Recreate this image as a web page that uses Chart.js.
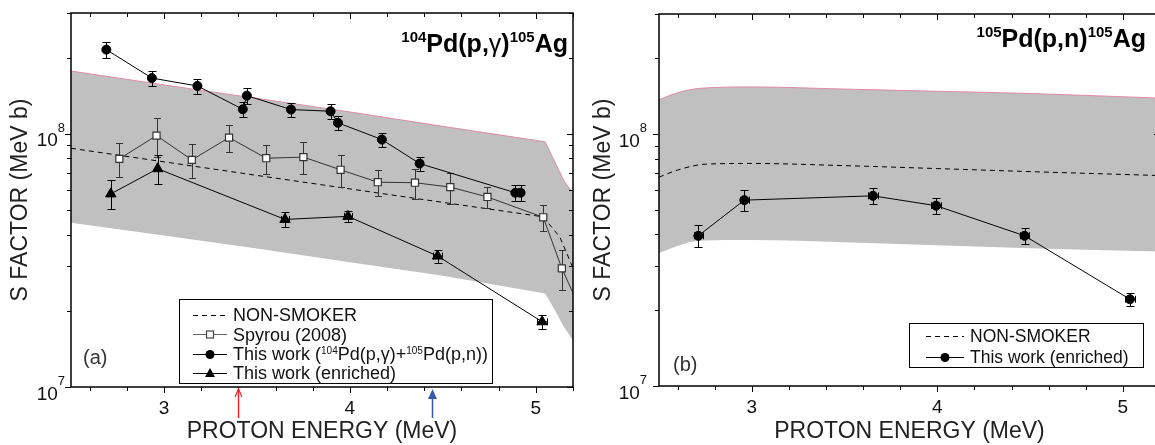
<!DOCTYPE html>
<html>
<head>
<meta charset="utf-8">
<script src="https://cdn.jsdelivr.net/npm/chart.js@4.4.0/dist/chart.umd.min.js"></script>
<style>
  html, body { margin: 0; padding: 0; background: #fff; overflow: hidden; }
  #chartA { position: absolute; left: 0; top: 0; }
  #chartB { position: absolute; left: 580px; top: 0; }
</style>
</head>
<body>
<canvas id="chartA" width="580" height="445"></canvas>
<canvas id="chartB" width="586" height="445"></canvas>
<script>
const FONT = "'Liberation Sans', Arial, Helvetica, sans-serif";

// axis ticks (MeV, MeV b)
const xTicks = [3, 4, 5];
const xMinor = [2.6, 2.8, 3.2, 3.4, 3.6, 3.8, 4.2, 4.4, 4.6, 4.8, 5.2];
const yTicks = [1e7, 1e8];
const yMinor = [2e7, 3e7, 4e7, 5e7, 6e7, 7e7, 8e7, 9e7, 2e8, 3e8];

// panel (a): 104Pd(p,g)105Ag
const smokerAx = [2.5, 3.0, 3.5, 4.0, 4.5, 5.04, 5.13, 5.19, 5.2];
const smokerAy = [8.77e7, 7.75e7, 6.85e7, 6.06e7, 5.36e7, 4.7e7, 3.9e7, 3.07e7, 2.95e7];
const bandAx = [2.5, 3.0, 3.5, 4.0, 4.5, 5.05, 5.1, 5.15, 5.2];
const bandAhi = [1.77e8, 1.56e8, 1.38e8, 1.22e8, 1.07e8, 9.3e7, 7.8e7, 6.55e7, 5.8e7];
const bandAlo = [4.45e7, 3.97e7, 3.52e7, 3.11e7, 2.75e7, 2.34e7, 2.03e7, 1.73e7, 1.53e7];

const spyrouX = [2.76, 2.96, 3.15, 3.35, 3.55, 3.75, 3.95, 4.15, 4.35, 4.54, 4.74, 5.04, 5.14, 5.25];
const spyrouY = [7.96e7, 9.84e7, 7.89e7, 9.66e7, 8.01e7, 8.09e7, 7.21e7, 6.44e7, 6.41e7, 6.16e7, 5.63e7, 4.68e7, 2.94e7, 1.95e7];
const spyrouErr = [1.2e7, 1.75e7, 1.2e7, 1.15e7, 1.05e7, 1.15e7, 1.05e7, 7.7e6, 8.6e6, 8.6e6, 5.6e6, 5.6e6, 5.3e6, null];

const combX = [2.69, 2.935, 3.18, 3.424, 3.446, 3.683, 3.896, 3.936, 4.172, 4.375, 4.89, 4.918];
const combY = [2.15e8, 1.66e8, 1.545e8, 1.25e8, 1.415e8, 1.247e8, 1.228e8, 1.105e8, 9.49e7, 7.63e7, 5.85e7, 5.85e7];
const combErr = [1.5e7, 1.15e7, 1.05e7, 8.5e6, 1.0e7, 8e6, 8e6, 7e6, 6e6, 5e6, 4e6, 4e6];

const enrAx = [2.714, 2.966, 3.651, 3.99, 4.472, 5.034];
const enrAy = [5.79e7, 7.28e7, 4.59e7, 4.72e7, 3.29e7, 1.81e7];
const enrAerr = [7.5e6, 9.5e6, 3e6, 2.3e6, 2e6, 1.2e6];
const enrAxErr = [0, 0, 0.02, 0.02, 0.025, 0.025];

// panel (b): 105Pd(p,n)105Ag
const smokerBx = [2.5, 2.6, 2.75, 3.0, 3.5, 4.0, 4.5, 5.2];
const smokerBy = [6.75e7, 7.2e7, 7.6e7, 7.65e7, 7.5e7, 7.3e7, 7.1e7, 6.85e7];
const bandBx = [2.5, 2.6, 2.72, 3.0, 3.5, 4.0, 4.5, 5.2];
const bandBhi = [1.37e8, 1.46e8, 1.52e8, 1.54e8, 1.51e8, 1.48e8, 1.45e8, 1.39e8];
const bandBlo = [3.37e7, 3.6e7, 3.77e7, 3.8e7, 3.72e7, 3.62e7, 3.52e7, 3.42e7];

const enrBx = [2.712, 2.96, 3.653, 3.993, 4.47, 5.038];
const enrBy = [3.95e7, 5.47e7, 5.69e7, 5.2e7, 3.95e7, 2.21e7];
const enrBerr = [4e6, 5.2e6, 4e6, 3.6e6, 2.8e6, 1.25e6];
const enrBxErr = [0.025, 0.025, 0.025, 0.025, 0.025, 0.025];

// arrows under panel (a)
const arrowX = [3.40, 4.44];

function pts(xs, ys) {
  return xs.map((x, i) => ({ x: x, y: ys[i] }));
}

function richText(ctx, parts, x, y, align, size, bold, supRatio, raise) {
  const w = bold ? 'bold ' : '';
  const sub = Math.round(size * supRatio);
  const fontOf = k => k === 's' ? w + sub + 'px ' + FONT : (k === 'r' ? '' : w) + size + 'px ' + FONT;
  let total = 0;
  parts.forEach(([t, k]) => { ctx.font = fontOf(k); total += ctx.measureText(t).width; });
  let cx = align === 'right' ? x - total : x;
  ctx.textAlign = 'left';
  ctx.textBaseline = 'alphabetic';
  parts.forEach(([t, k]) => {
    ctx.font = fontOf(k);
    ctx.fillText(t, cx, k === 's' ? y - size * raise : y);
    cx += ctx.measureText(t).width;
  });
}

function marker(ctx, kind, x, y) {
  ctx.save();
  ctx.lineWidth = 1.2;
  if (kind === 'square') {
    ctx.fillStyle = '#fff';
    ctx.strokeStyle = '#444';
    ctx.fillRect(x - 3.5, y - 3.5, 7, 7);
    ctx.strokeRect(x - 3.5, y - 3.5, 7, 7);
  } else if (kind === 'circle') {
    ctx.fillStyle = '#000';
    ctx.beginPath();
    ctx.arc(x, y, 4.5, 0, Math.PI * 2);
    ctx.fill();
  } else if (kind === 'triangle') {
    ctx.fillStyle = '#000';
    ctx.beginPath();
    ctx.moveTo(x, y - 5.5);
    ctx.lineTo(x + 5, y + 3.5);
    ctx.lineTo(x - 5, y + 3.5);
    ctx.closePath();
    ctx.fill();
  }
  ctx.restore();
}

const errorBars = {
  id: 'errorBars',
  beforeDatasetDraw(chart, args) {
    const ds = chart.data.datasets[args.index];
    if (!ds.errY) return;
    const xs = chart.scales.x, ys = chart.scales.y;
    const a = chart.chartArea;
    const ctx = chart.ctx;
    const cap = ds.errCap || 4;
    ctx.save();
    ctx.beginPath();
    ctx.rect(a.left, a.top, a.right - a.left, a.bottom - a.top);
    ctx.clip();
    ctx.strokeStyle = ds.errColor || '#000';
    ctx.lineWidth = 1;
    ds.data.forEach((p, i) => {
      const e = ds.errY[i];
      const px = Math.round(xs.getPixelForValue(p.x)) + 0.5;
      const py = ys.getPixelForValue(p.y);
      ctx.beginPath();
      if (e) {
        const t = Math.round(ys.getPixelForValue(p.y + e)) + 0.5;
        const b = Math.round(ys.getPixelForValue(p.y - e)) + 0.5;
        ctx.moveTo(px, t); ctx.lineTo(px, b);
        ctx.moveTo(px - cap, t); ctx.lineTo(px + cap, t);
        ctx.moveTo(px - cap, b); ctx.lineTo(px + cap, b);
      }
      const ex = ds.errX ? ds.errX[i] : 0;
      if (ex) {
        const l = Math.round(xs.getPixelForValue(p.x - ex)) + 0.5;
        const r = Math.round(xs.getPixelForValue(p.x + ex)) + 0.5;
        ctx.moveTo(l, py); ctx.lineTo(r, py);
        ctx.moveTo(l, py - 3.5); ctx.lineTo(l, py + 3.5);
        ctx.moveTo(r, py - 3.5); ctx.lineTo(r, py + 3.5);
      }
      ctx.stroke();
    });
    ctx.restore();
  }
};

const frame = {
  id: 'frame',
  afterDraw(chart, args, opts) {
    const ctx = chart.ctx;
    const { left, right, top, bottom } = chart.chartArea;
    const xs = chart.scales.x, ys = chart.scales.y;
    ctx.save();

    // tick marks: top and bottom point down, left and right point left
    ctx.strokeStyle = '#000';
    ctx.lineWidth = 1;
    ctx.beginPath();
    xTicks.concat(xMinor).forEach(v => {
      const len = xTicks.includes(v) ? 6 : 4;
      const px = Math.round(xs.getPixelForValue(v)) + 0.5;
      ctx.moveTo(px, bottom); ctx.lineTo(px, bottom + len);
      ctx.moveTo(px, top); ctx.lineTo(px, top + len);
    });
    yTicks.concat(yMinor).forEach(v => {
      const len = yTicks.includes(v) ? 6 : 4;
      const py = Math.round(ys.getPixelForValue(v)) + 0.5;
      ctx.moveTo(left - len, py); ctx.lineTo(left, py);
      ctx.moveTo(right - len, py); ctx.lineTo(right, py);
    });
    ctx.stroke();

    ctx.lineWidth = 1.5;
    ctx.strokeRect(left, top, right - left, bottom - top);

    // decade labels 10^7, 10^8 with real superscripts
    ctx.fillStyle = '#111';
    yTicks.forEach(v => {
      const py = ys.getPixelForValue(v);
      const exp = String(Math.round(Math.log10(v)));
      richText(ctx, [['10', 'n'], [exp, 's']], left - opts.yLabelPad, py + 12.5, 'right', 19, false, 0.68, 0.77);
    });

    // reaction title
    ctx.fillStyle = '#000';
    richText(ctx, opts.title.parts, opts.title.x, opts.title.y, 'right', 25, true, 0.6, 0.42);

    // panel label
    ctx.fillStyle = '#333';
    ctx.font = '20px ' + FONT;
    ctx.textAlign = 'left';
    ctx.textBaseline = 'middle';
    ctx.fillText(opts.label.text, opts.label.x, opts.label.y);

    // legend
    const lg = opts.legend;
    ctx.fillStyle = '#fff';
    ctx.fillRect(lg.box[0], lg.box[1], lg.box[2], lg.box[3]);
    ctx.strokeStyle = '#000';
    ctx.lineWidth = 1;
    ctx.strokeRect(lg.box[0] + 0.5, lg.box[1] + 0.5, lg.box[2], lg.box[3]);
    lg.rows.forEach(row => {
      const y = Math.round(row.y) + 0.5;
      ctx.save();
      ctx.lineWidth = 1;
      if (row.kind === 'dash') {
        ctx.strokeStyle = '#000';
        ctx.setLineDash([5, 4]);
      } else {
        ctx.strokeStyle = row.kind === 'square' ? '#666' : '#000';
      }
      ctx.beginPath();
      ctx.moveTo(lg.symX[0], y);
      ctx.lineTo(lg.symX[1], y);
      ctx.stroke();
      ctx.restore();
      marker(ctx, row.kind, (lg.symX[0] + lg.symX[1]) / 2, y);
      ctx.fillStyle = '#111';
      richText(ctx, row.parts, lg.textX, row.y + lg.size * 0.36, 'left', lg.size, false, 0.55, 0.36);
    });

    // energy arrows
    (opts.arrows || []).forEach(ar => {
      const px = Math.round(xs.getPixelForValue(ar.x)) + 0.5;
      const tip = bottom + 2, tail = bottom + 31;
      ctx.strokeStyle = ar.color;
      ctx.fillStyle = ar.color;
      ctx.lineWidth = 1.5;
      ctx.beginPath();
      ctx.moveTo(px, tail);
      ctx.lineTo(px, tip + (ar.filled ? 8 : 0));
      ctx.stroke();
      ctx.beginPath();
      if (ar.filled) {
        ctx.moveTo(px, tip);
        ctx.lineTo(px - 4.5, tip + 10);
        ctx.lineTo(px + 4.5, tip + 10);
        ctx.closePath();
        ctx.fill();
      } else {
        ctx.lineWidth = 1.2;
        ctx.moveTo(px - 3.5, tip + 8);
        ctx.lineTo(px, tip);
        ctx.lineTo(px + 3.5, tip + 8);
        ctx.stroke();
      }
    });
    ctx.restore();
  }
};

function makeOptions(cfg) {
  return {
    responsive: false,
    animation: false,
    layout: { padding: { top: cfg.top, right: cfg.right, left: 0, bottom: 0 } },
    scales: {
      x: {
        type: 'linear',
        min: 2.5,
        max: 5.2,
        afterBuildTicks: ax => { ax.ticks = xTicks.map(v => ({ value: v })); },
        afterFit: ax => { ax.height = cfg.xHeight; },
        grid: { display: false, drawTicks: false },
        border: { display: false },
        ticks: {
          color: '#111',
          font: { family: FONT, size: 19 },
          padding: 10,
          maxRotation: 0,
          autoSkip: false,
          callback: v => String(v)
        },
        title: {
          display: true,
          text: 'PROTON ENERGY (MeV)',
          color: '#222',
          font: { family: FONT, size: 23 },
          padding: { top: 0, bottom: 0 }
        }
      },
      y: {
        type: 'logarithmic',
        min: 1e7,
        max: 3e8,
        afterBuildTicks: ax => { ax.ticks = yTicks.map(v => ({ value: v })); },
        afterFit: ax => { ax.width = cfg.yWidth; },
        grid: { display: false, drawTicks: false },
        border: { display: false },
        ticks: { display: false },
        title: {
          display: true,
          text: 'S FACTOR (MeV b)',
          color: '#222',
          font: { family: FONT, size: 23 },
          padding: { top: cfg.yTitlePad, bottom: 0 }
        }
      }
    },
    plugins: {
      legend: { display: false },
      tooltip: { enabled: false },
      frame: cfg.frame
    }
  };
}

const bandFill = '#c0c0c0';

new Chart(document.getElementById('chartA'), {
  type: 'line',
  data: {
    datasets: [
      {
        data: pts(combX, combY),
        errY: combErr,
        borderColor: '#000',
        borderWidth: 1,
        pointStyle: 'circle',
        pointRadius: 4.5,
        pointBackgroundColor: '#000',
        pointBorderColor: '#000',
        tension: 0
      },
      {
        data: pts(enrAx, enrAy),
        errY: enrAerr,
        errX: enrAxErr,
        borderColor: '#000',
        borderWidth: 1,
        pointStyle: 'triangle',
        pointRadius: 6,
        pointBackgroundColor: '#000',
        pointBorderColor: '#000',
        tension: 0
      },
      {
        data: pts(spyrouX, spyrouY),
        errY: spyrouErr,
        errColor: '#333',
        errCap: 3.5,
        borderColor: '#333',
        borderWidth: 1,
        pointStyle: 'rect',
        pointRadius: 5,
        pointBorderWidth: 1.2,
        pointBackgroundColor: '#fff',
        pointBorderColor: '#333',
        tension: 0
      },
      {
        data: pts(smokerAx, smokerAy),
        borderColor: '#000',
        borderWidth: 1,
        borderDash: [5, 4],
        pointRadius: 0,
        tension: 0
      },
      {
        data: pts(bandAx, bandAhi),
        borderColor: '#e08aa6',
        borderWidth: 1,
        backgroundColor: bandFill,
        fill: '+1',
        pointRadius: 0,
        tension: 0
      },
      {
        data: pts(bandAx, bandAlo),
        borderColor: 'rgba(0,0,0,0)',
        borderWidth: 0,
        pointRadius: 0,
        tension: 0
      }
    ]
  },
  options: makeOptions({
    top: 13, right: 5, xHeight: 58, yWidth: 71, yTitlePad: 7,
    frame: {
      yLabelPad: 6,
      title: { parts: [['104', 's'], ['Pd(p,', 'n'], ['\u03b3', 'r'], [')', 'n'], ['105', 's'], ['Ag', 'n']], x: 568, y: 52 },
      label: { text: '(a)', x: 83, y: 358 },
      legend: {
        box: [179, 299, 313, 84],
        symX: [193, 227],
        textX: 233,
        size: 18,
        rows: [
          { y: 315, kind: 'dash', parts: [['NON-SMOKER', 'n']] },
          { y: 334.3, kind: 'square', parts: [['Spyrou (2008)', 'n']] },
          { y: 354, kind: 'circle', parts: [['This work (', 'n'], ['104', 's'], ['Pd(p,\u03b3)+', 'n'], ['105', 's'], ['Pd(p,n))', 'n']] },
          { y: 372.7, kind: 'triangle', parts: [['This work (enriched)', 'n']] }
        ]
      },
      arrows: [
        { x: arrowX[0], color: '#e8262b', filled: false },
        { x: arrowX[1], color: '#3a56a8', filled: true }
      ]
    }
  }),
  plugins: [errorBars, frame]
});

new Chart(document.getElementById('chartB'), {
  type: 'line',
  data: {
    datasets: [
      {
        data: pts(enrBx, enrBy),
        errY: enrBerr,
        errX: enrBxErr,
        borderColor: '#000',
        borderWidth: 1,
        pointStyle: 'circle',
        pointRadius: 4.5,
        pointBackgroundColor: '#000',
        pointBorderColor: '#000',
        tension: 0
      },
      {
        data: pts(smokerBx, smokerBy),
        borderColor: '#000',
        borderWidth: 1,
        borderDash: [5, 4],
        pointRadius: 0,
        cubicInterpolationMode: 'monotone'
      },
      {
        data: pts(bandBx, bandBhi),
        borderColor: '#e08aa6',
        borderWidth: 1,
        backgroundColor: bandFill,
        fill: '+1',
        pointRadius: 0,
        cubicInterpolationMode: 'monotone'
      },
      {
        data: pts(bandBx, bandBlo),
        borderColor: 'rgba(0,0,0,0)',
        borderWidth: 0,
        pointRadius: 0,
        cubicInterpolationMode: 'monotone'
      }
    ]
  },
  options: makeOptions({
    top: 14, right: 6, xHeight: 59, yWidth: 79, yTitlePad: 10,
    frame: {
      yLabelPad: 12,
      title: { parts: [['105', 's'], ['Pd(p,n)', 'n'], ['105', 's'], ['Ag', 'n']], x: 566, y: 47 },
      label: { text: '(b)', x: 93, y: 365 },
      legend: {
        box: [329, 323, 234, 44],
        symX: [346, 384],
        textX: 390,
        size: 17.5,
        rows: [
          { y: 335.7, kind: 'dash', parts: [['NON-SMOKER', 'n']] },
          { y: 356.7, kind: 'circle', parts: [['This work (enriched)', 'n']] }
        ]
      },
      arrows: []
    }
  }),
  plugins: [errorBars, frame]
});
</script>
</body>
</html>
